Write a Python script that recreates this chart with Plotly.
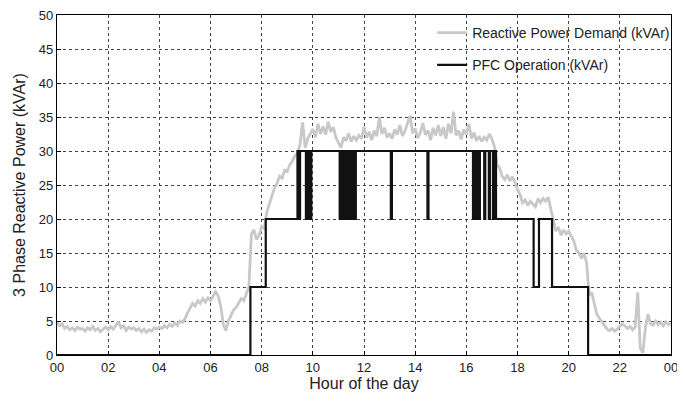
import plotly.graph_objects as go

# ---- data ----
demand_hours = [i / 10 for i in range(241)]
demand_kvar = [
    # 0h
    4.8, 4.3, 4.6, 3.9, 4.2, 3.7, 4.0, 3.6, 4.1, 3.8,
    # 1h
    3.9, 3.5, 4.0, 3.7, 4.2, 3.6, 3.9, 3.4, 3.8, 4.1,
    # 2h
    3.7, 4.2, 3.8, 4.4, 4.9, 4.0, 4.3, 3.6, 4.1, 3.8,
    # 3h
    4.0, 3.6, 3.9, 3.4, 3.8, 3.3, 3.7, 3.5, 4.0, 3.8,
    # 4h
    4.1, 3.9, 4.3, 4.0, 4.5, 4.2, 4.7, 4.4, 5.0, 4.8,
    # 5h
    5.3, 6.2, 7.0, 7.6, 7.2, 8.0, 7.6, 8.3, 7.8, 8.4,
    # 6h
    8.0, 8.6, 9.3, 8.7, 7.2, 4.5, 3.6, 5.0, 5.8, 6.6,
    # 7h
    7.0, 7.6, 8.3, 8.0, 9.0, 10.0, 17.8, 18.4, 17.0, 17.6,
    # 8h
    18.9, 18.6, 21.0, 22.3, 23.5, 24.6, 25.2, 26.3, 26.0, 27.2,
    # 9h
    27.0, 28.0, 28.5, 29.3, 29.6, 31.0, 34.2, 30.5, 31.8, 32.6,
    # 10h
    33.2, 32.0, 34.0, 32.5, 33.6, 32.4, 34.3, 32.8, 33.5, 32.0,
    # 11h
    31.2, 30.5, 32.0, 31.5, 32.6, 31.4, 32.2, 31.6, 32.3, 31.8,
    # 12h
    33.6, 32.0, 32.8, 31.6, 33.0, 32.2, 35.0, 32.5, 33.4, 32.0,
    # 13h
    32.6, 31.8, 33.2, 32.4, 33.8, 32.2, 32.9, 34.0, 35.2, 32.6,
    # 14h
    33.3, 31.9, 32.7, 34.1, 32.4, 33.0, 31.6, 33.4, 32.3, 33.8,
    # 15h
    32.2, 33.5, 31.8, 34.0, 32.6, 35.8, 32.3, 33.0, 31.7, 33.2,
    # 16h
    32.4, 34.0, 31.8, 32.7, 31.5, 32.2, 31.4, 32.0, 31.6, 32.5,
    # 17h
    31.8, 30.6, 28.0, 27.5, 26.3, 25.8, 26.5, 25.6, 26.2, 25.4,
    # 18h
    24.3, 23.6, 22.4, 22.8, 22.0, 22.6, 22.2, 21.8, 23.0, 22.4,
    # 19h
    23.0, 22.6, 23.2, 21.6, 20.0, 18.2, 18.8, 17.6, 18.4, 17.8,
    # 20h
    18.2, 17.6, 16.8, 15.4, 15.0, 14.2, 15.0, 13.6, 8.8, 9.2,
    # 21h
    7.4, 6.0, 5.4, 4.8, 4.2, 3.8, 3.6, 3.9, 3.5, 3.8,
    # 22h
    4.2, 4.6, 4.3, 3.9, 4.2, 3.7, 4.1, 9.2, 1.0, 0.3,
    # 23h
    4.0, 6.0, 4.6, 4.4, 5.0, 4.5, 4.8, 4.3, 4.9, 4.5,
    # 24h
    4.6,
]

# PFC operation: switching instants (hours) and the level reached at each
pfc_hours = [
    0.0, 7.56, 8.16,
    9.40, 9.45, 9.50,
    9.73, 9.76, 9.79, 9.82, 9.85, 9.88, 9.91, 9.94,
    11.05, 11.08, 11.11, 11.14, 11.17, 11.20, 11.23, 11.26, 11.29, 11.32, 11.35,
    11.38, 11.41, 11.44, 11.47, 11.50, 11.53, 11.56, 11.59, 11.62, 11.65, 11.68,
    13.05, 13.09,
    14.48, 14.52,
    16.26, 16.29, 16.32, 16.35, 16.38, 16.41, 16.44, 16.47, 16.50, 16.53,
    16.70, 16.74, 16.88, 16.92, 17.04, 17.08,
    17.16, 18.63, 18.84, 19.35, 20.76, 24.0,
]
pfc_kvar = [
    0, 10, 20,
    30, 20, 30,
    20, 30, 20, 30, 20, 30, 20, 30,
    20, 30, 20, 30, 20, 30, 20, 30, 20, 30, 20,
    30, 20, 30, 20, 30, 20, 30, 20, 30, 20, 30,
    20, 30,
    20, 30,
    20, 30, 20, 30, 20, 30, 20, 30, 20, 30,
    20, 30, 20, 30, 20, 30,
    20, 10, 20, 10, 0, 0,
]

x_tick_vals = list(range(0, 25, 2))
x_tick_text = ["00", "02", "04", "06", "08", "10", "12", "14", "16", "18", "20", "22", "00"]
y_tick_vals = list(range(0, 51, 5))

FONT = "Liberation Sans, Arial, sans-serif"

fig = go.Figure()
fig.add_trace(go.Scatter(
    x=demand_hours, y=demand_kvar, mode="lines",
    name="Reactive Power Demand (kVAr)",
    line=dict(color="#c8c8c8", width=2.8),
    legendgroup="a",
))
fig.add_trace(go.Scatter(
    x=pfc_hours, y=pfc_kvar, mode="lines",
    name="PFC Operation (kVAr)",
    line=dict(color="#111111", width=2.2, shape="hv"),
    legendgroup="b",
))

axis_common = dict(
    showline=True, linecolor="black", linewidth=1.3, mirror=True,
    showgrid=True, gridcolor="#444444", gridwidth=1, griddash="3px,3px",
    zeroline=False, ticks="inside", ticklen=4, tickcolor="black",
    tickfont=dict(family=FONT, size=13, color="#222222"),
    automargin=False, ticklabeloverflow="allow",
)

fig.update_layout(
    width=685, height=403,
    margin=dict(l=49, r=22, t=7, b=56, autoexpand=False),
    paper_bgcolor="white", plot_bgcolor="white",
    font=dict(family=FONT, color="#222222"),
    showlegend=True,
    legend=dict(
        x=0.611, y=0.994, xanchor="left", yanchor="top",
        bgcolor="rgba(0,0,0,0)", borderwidth=0,
        font=dict(family=FONT, size=14, color="#222222"),
        tracegroupgap=11, traceorder="grouped",
    ),
    xaxis=dict(
        range=[0, 24], tickvals=x_tick_vals, ticktext=x_tick_text,
        title=dict(text="Hour of the day", font=dict(family=FONT, size=16), standoff=4),
        **axis_common,
    ),
    yaxis=dict(
        range=[0, 50], tickvals=y_tick_vals,
        title=dict(text="3 Phase Reactive Power (kVAr)", font=dict(family=FONT, size=16), standoff=9),
        **axis_common,
    ),
)

fig.write_html("out.html")
